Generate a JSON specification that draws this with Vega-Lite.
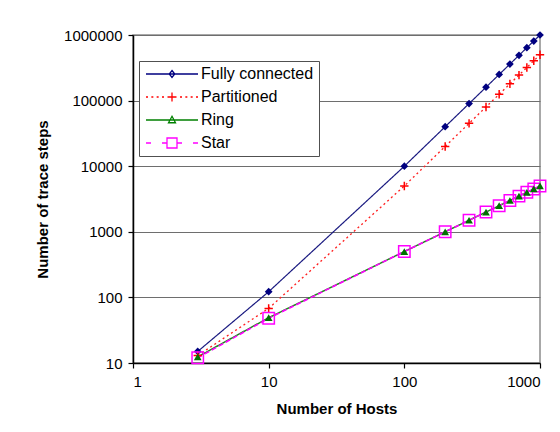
{
  "$schema": "https://vega.github.io/schema/vega-lite/v6.json",
  "width": 407,
  "height": 328,
  "autosize": {"type": "none"},
  "padding": {"left": 133, "top": 35, "right": 20, "bottom": 69},
  "background": "white",
  "config": {
    "font": "Liberation Sans",
    "view": {"stroke": "#8c8c8c", "strokeWidth": 1.5},
    "axis": {
      "labelFont": "Liberation Sans",
      "labelFontSize": 15,
      "labelColor": "black",
      "titleFont": "Liberation Sans",
      "titleFontSize": 15,
      "titleFontWeight": "bold",
      "titleColor": "black",
      "domainColor": "black",
      "domainWidth": 1.5,
      "tickColor": "black",
      "tickSize": 5,
      "tickWidth": 1.2
    }
  },
  "data": {
    "values": [
      {"hosts": 3, "series": "Fully connected", "steps": 15},
      {"hosts": 10, "series": "Fully connected", "steps": 122},
      {"hosts": 100, "series": "Fully connected", "steps": 10000},
      {"hosts": 200, "series": "Fully connected", "steps": 40000},
      {"hosts": 300, "series": "Fully connected", "steps": 90000},
      {"hosts": 400, "series": "Fully connected", "steps": 160000},
      {"hosts": 500, "series": "Fully connected", "steps": 250000},
      {"hosts": 600, "series": "Fully connected", "steps": 360000},
      {"hosts": 700, "series": "Fully connected", "steps": 490000},
      {"hosts": 800, "series": "Fully connected", "steps": 640000},
      {"hosts": 900, "series": "Fully connected", "steps": 810000},
      {"hosts": 1000, "series": "Fully connected", "steps": 1000000},
      {"hosts": 3, "series": "Partitioned", "steps": 13},
      {"hosts": 10, "series": "Partitioned", "steps": 68},
      {"hosts": 100, "series": "Partitioned", "steps": 5000},
      {"hosts": 200, "series": "Partitioned", "steps": 20000},
      {"hosts": 300, "series": "Partitioned", "steps": 45000},
      {"hosts": 400, "series": "Partitioned", "steps": 80000},
      {"hosts": 500, "series": "Partitioned", "steps": 125000},
      {"hosts": 600, "series": "Partitioned", "steps": 180000},
      {"hosts": 700, "series": "Partitioned", "steps": 245000},
      {"hosts": 800, "series": "Partitioned", "steps": 320000},
      {"hosts": 900, "series": "Partitioned", "steps": 405000},
      {"hosts": 1000, "series": "Partitioned", "steps": 500000},
      {"hosts": 3, "series": "Ring", "steps": 12.4},
      {"hosts": 10, "series": "Ring", "steps": 49},
      {"hosts": 100, "series": "Ring", "steps": 500},
      {"hosts": 200, "series": "Ring", "steps": 1000},
      {"hosts": 300, "series": "Ring", "steps": 1500},
      {"hosts": 400, "series": "Ring", "steps": 2000},
      {"hosts": 500, "series": "Ring", "steps": 2500},
      {"hosts": 600, "series": "Ring", "steps": 3000},
      {"hosts": 700, "series": "Ring", "steps": 3500},
      {"hosts": 800, "series": "Ring", "steps": 4000},
      {"hosts": 900, "series": "Ring", "steps": 4500},
      {"hosts": 1000, "series": "Ring", "steps": 5000},
      {"hosts": 3, "series": "Star", "steps": 12},
      {"hosts": 10, "series": "Star", "steps": 48},
      {"hosts": 100, "series": "Star", "steps": 500},
      {"hosts": 200, "series": "Star", "steps": 1000},
      {"hosts": 300, "series": "Star", "steps": 1500},
      {"hosts": 400, "series": "Star", "steps": 2000},
      {"hosts": 500, "series": "Star", "steps": 2500},
      {"hosts": 600, "series": "Star", "steps": 3000},
      {"hosts": 700, "series": "Star", "steps": 3500},
      {"hosts": 800, "series": "Star", "steps": 4000},
      {"hosts": 900, "series": "Star", "steps": 4500},
      {"hosts": 1000, "series": "Star", "steps": 5000}
    ]
  },
  "encoding": {
    "x": {
      "field": "hosts",
      "type": "quantitative",
      "scale": {"type": "log", "domain": [1, 1000], "nice": false},
      "axis": {
        "title": "Number of Hosts",
        "values": [1, 10, 100, 1000],
        "format": "d",
        "grid": false,
        "labelPadding": 6,
        "titlePadding": 12
      }
    },
    "y": {
      "field": "steps",
      "type": "quantitative",
      "scale": {"type": "log", "domain": [10, 1000000], "nice": false},
      "axis": {
        "title": "Number of trace steps",
        "values": [10, 100, 1000, 10000, 100000, 1000000],
        "format": "d",
        "grid": true,
        "gridColor": "#6e6e6e",
        "gridWidth": 1.2,
        "gridOpacity": 1,
        "labelPadding": 6,
        "titlePadding": 13
      }
    }
  },
  "layer": [
    {
      "mark": {"type": "line", "clip": false},
      "encoding": {
        "color": {
          "field": "series",
          "type": "nominal",
          "scale": {"range": ["#1a1a80", "#ff2020", "#1a8a1a", "#ff00ff"]},
          "legend": null
        },
        "strokeDash": {
          "field": "series",
          "type": "nominal",
          "scale": {"range": [[1, 0], [2, 3], [1, 0], [5, 3]]},
          "legend": null
        },
        "strokeWidth": {
          "field": "series",
          "type": "nominal",
          "scale": {"range": [1.2, 1.6, 1.2, 2.2]},
          "legend": null
        }
      }
    },
    {
      "transform": [{"filter": "datum.series === 'Fully connected'"}],
      "mark": {"type": "point", "shape": "diamond", "filled": true, "color": "#000080", "size": 60, "opacity": 1}
    },
    {
      "transform": [{"filter": "datum.series === 'Partitioned'"}],
      "mark": {"type": "point", "shape": "M-1,0H1M0,-1V1", "filled": false, "stroke": "#ff0000", "strokeWidth": 1.5, "size": 70, "opacity": 1}
    },
    {
      "transform": [{"filter": "datum.series === 'Star'"}],
      "mark": {"type": "point", "shape": "square", "filled": false, "stroke": "#ff00ff", "strokeWidth": 1.5, "size": 130, "opacity": 1}
    },
    {
      "transform": [{"filter": "datum.series === 'Ring'"}],
      "mark": {"type": "point", "shape": "triangle-up", "filled": true, "color": "#007000", "size": 60, "opacity": 1}
    },
    {
      "mark": {"type": "point", "opacity": 0, "filled": true, "strokeWidth": 1.3},
      "encoding": {
        "shape": {
          "field": "series",
          "type": "nominal",
          "scale": {
            "domain": ["Fully connected", "Partitioned", "Ring", "Star"],
            "range": [
              "M-5.2,0H5.2M0,-0.7L0.55,0L0,0.7L-0.55,0Z",
              "M-5.2,0H-4.8M-4.13,0H-3.73M-3.07,0H-2.67M-2,0H-1.6M1.6,0H2M2.67,0H3.07M3.73,0H4.13M4.8,0H5.2M-0.9,0H0.9M0,-0.9V0.9",
              "M-5.2,0H5.2M0,-0.75L0.7,0.55L-0.7,0.55Z",
              "M-5.2,0H-4.2M-2,0H-1M1,0H2M4.2,0H5.2M-1,-1H1V1H-1Z"
            ]
          },
          "legend": {
            "title": null,
            "orient": "none",
            "legendX": 6,
            "legendY": 26,
            "padding": 5,
            "fillColor": "white",
            "strokeColor": "#505050",
            "symbolSize": 100,
            "symbolOffset": 20,
            "symbolStrokeWidth": 1.3,
            "labelOffset": 21,
            "labelFont": "Liberation Sans",
            "labelFontSize": 16,
            "labelColor": "black",
            "labelLimit": 300,
            "rowPadding": 7,
            "encode": {
              "legend": {"update": {"strokeWidth": {"value": 1.5}}},
              "symbols": {"update": {"opacity": {"value": 1}}}
            }
          }
        },
        "stroke": {
          "field": "series",
          "type": "nominal",
          "scale": {
            "domain": ["Fully connected", "Partitioned", "Ring", "Star"],
            "range": ["#000080", "#ff0000", "#008000", "#ff00ff"]
          }
        },
        "fill": {
          "field": "series",
          "type": "nominal",
          "scale": {
            "domain": ["Fully connected", "Partitioned", "Ring", "Star"],
            "range": ["#000080", "transparent", "#008000", "#ffffff"]
          }
        }
      }
    }
  ]
}
